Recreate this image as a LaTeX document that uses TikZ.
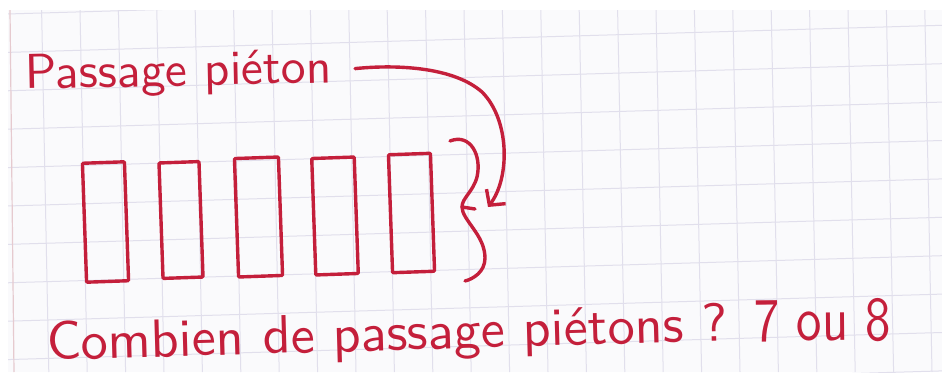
\documentclass[tikz,border=0pt]{standalone}
\usetikzlibrary{arrows.meta}
\definecolor{ink}{HTML}{C41F3B}
\definecolor{paper}{HTML}{FAFAFC}
\definecolor{gridc}{HTML}{E1DFEC}
\definecolor{margin}{HTML}{E6CACF}
\tikzset{
  gridline/.style={gridc, line width=1pt},
  lane/.style={draw=ink, line width=3.4pt, rectangle, inner sep=0pt, rounded corners=1pt},
  pen/.style={draw=ink, line width=3.4pt, line cap=round, line join=round},
  hand/.style={ink, inner sep=0pt, font=\sffamily},
}
\begin{document}
\begin{tikzpicture}[x=1pt,y=-1pt]
\useasboundingbox (0,0) rectangle (942,372);
\fill[white] (0,0) rectangle (942,372);
\fill[paper] (8,10) rectangle (942,372);
\begin{scope}
\clip (8,10) rectangle (942,372);
\foreach \k in {-1,...,9}
  \draw[gridline] (8,{52.6+38.4*\k-0.23}) -- (942,{52.6+38.4*\k-27.3});
\foreach \k in {0,...,23}
  \draw[gridline] ({41.4+38.4*\k+0.2},10) -- ({41.4+38.4*\k+7.4},372);
\draw[margin, line width=1.2pt] (10,10) -- (14,372);
\end{scope}

% label
\node[hand, anchor=base west, rotate=1.2] (ptlabel) at (25,89)
  {\resizebox{307pt}{34pt}{Passage piéton}};

% crossing stripes
\node[lane, minimum width=42pt, minimum height=119pt, rotate=2] (r1) at (105.5,222) {};
\node[lane, minimum width=40pt, minimum height=115.5pt, rotate=2] (r2) at (181,220) {};
\node[lane, minimum width=44pt, minimum height=118.5pt, rotate=2] (r3) at (258.5,217) {};
\node[lane, minimum width=42.5pt, minimum height=116.5pt, rotate=2] (r4) at (335,216) {};
\node[lane, minimum width=42pt, minimum height=118pt, rotate=2] (r5) at (411.5,213) {};

% brace
\draw[pen] (450,141) .. controls (470,133) and (482,155) .. (477,177)
  .. controls (473,192) and (462,198) .. (462,207)
  .. controls (462,220) and (485,235) .. (485,258)
  .. controls (485,272) and (473,279) .. (465,281);
\draw[pen] (462,207) -- (475,209);
\coordinate (bracetip) at (488,207);

% arrow
\draw[pen, -{Straight Barb[length=11pt, width=24pt, line width=3.4pt]}]
  ([xshift=23pt,yshift=2pt]ptlabel.east) .. controls (400,64) and (455,68) .. (482,92)
  .. controls (510,120) and (510,178) .. (bracetip);

% question
\node[hand, anchor=base west, rotate=1.6] (question) at (47,360)
  {\resizebox{681pt}{38pt}{Combien de passage piétons ?}};
\node[hand, anchor=base west, rotate=0.5] (answer) at (754,341)
  {\resizebox{137pt}{42pt}{7 ou 8}};
\end{tikzpicture}
\end{document}
